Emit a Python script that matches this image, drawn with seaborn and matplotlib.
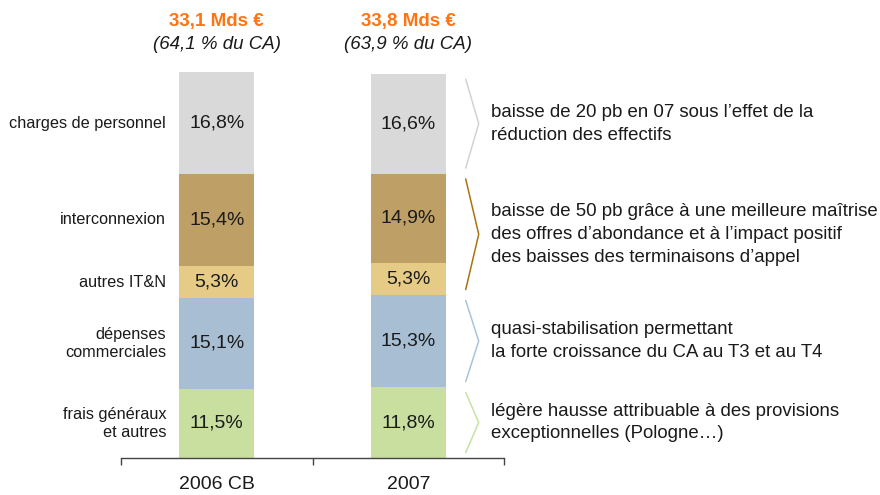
# Orange - charges opérationnelles 2006 / 2007 (stacked bars)
import pandas as pd
import matplotlib
matplotlib.use('Agg')
import matplotlib.pyplot as plt
import seaborn as sns

# ------------------------------
# Data
# ------------------------------
years = ['2006 CB', '2007']
layer_names = ['frais généraux\net autres', 'dépenses\ncommerciales',
               'autres IT&N', 'interconnexion', 'charges de personnel']
frais = [11.5, 11.8]
depenses = [15.1, 15.3]
autres = [5.3, 5.3]
interco = [15.4, 14.9]
charges = [16.8, 16.6]
totals_eur = ['33,1 Mds €', '33,8 Mds €']
totals_ca = ['(64,1 % du CA)', '(63,9 % du CA)']

comments = [
    "baisse de 20 pb en 07 sous l’effet de la\nréduction des effectifs",
    "baisse de 50 pb grâce à une meilleure maîtrise\ndes offres d’abondance et à l’impact positif\ndes baisses des terminaisons d’appel",
    "quasi-stabilisation permettant\nla forte croissance du CA au T3 et au T4",
    "légère hausse attribuable à des provisions\nexceptionnelles (Pologne…)",
]
# which layers each comment covers (indices in layer_names)
comment_groups = [[4], [2, 3], [1], [0]]

layer_colors = ['#C9DFA0', '#A7BED3', '#E5CB85', '#BE9F65', '#D9D9D9']
chevron_colors = ['#D2D2D2', '#A8740E', '#A9C3DC', '#C6E3A0']
orange = '#FF7412'

# long table with stacking positions
rows = []
for yi, year in enumerate(years):
    bottom = 0
    for li, vals in enumerate([frais, depenses, autres, interco, charges]):
        rows.append({'year': year, 'layer': layer_names[li], 'value': vals[yi],
                     'bottom': bottom, 'top': bottom + vals[yi]})
        bottom += vals[yi]
df = pd.DataFrame(rows)

# ------------------------------
# Plot
# ------------------------------
sns.set_style('white')
plt.rcParams['font.family'] = ['Liberation Sans', 'DejaVu Sans']

fig = plt.figure(figsize=(8.8, 4.95), dpi=100)
ax = fig.add_axes([121 / 880, 37 / 495, 383 / 880, 421 / 495])

# draw cumulative bars from the top layer down so each covers the one below
for li in reversed(range(len(layer_names))):
    sub = df[df['layer'] == layer_names[li]]
    sns.barplot(data=sub, x='year', y='top', order=years, color=layer_colors[li],
                saturation=1, width=0.39, ax=ax, errorbar=None, linewidth=0)

# values inside the segments
for _, r in df.iterrows():
    xi = years.index(r['year'])
    ax.text(xi, (r['bottom'] + r['top']) / 2, f"{r['value']:.1f}%".replace('.', ','),
            ha='center', va='center', fontsize=14, color='#1a1a1a')

# category labels left of first bar
first = df[df['year'] == years[0]]
for _, r in first.iterrows():
    ax.text(-0.265, (r['bottom'] + r['top']) / 2, r['layer'], ha='right', va='center',
            fontsize=11.7, color='#1a1a1a', linespacing=1.25)

# totals above bars
for xi in range(len(years)):
    ax.text(xi, 72.5, totals_eur[xi], ha='center', va='center', fontsize=13.5,
            fontweight='bold', color=orange)
    ax.text(xi, 68.7, totals_ca[xi], ha='center', va='center', fontsize=13.5,
            style='italic', color='#1a1a1a')

# chevrons + comments next to the 2007 bar
last = df[df['year'] == years[1]].reset_index(drop=True)
inset = 0.9
for gi, grp in enumerate(comment_groups):
    lo = last.loc[grp, 'bottom'].min() + inset
    hi = last.loc[grp, 'top'].max() - inset
    mid = (lo + hi) / 2
    ax.plot([1.30, 1.368, 1.30], [hi, mid, lo], color=chevron_colors[gi], lw=1.1,
            clip_on=False, solid_joinstyle='miter')
    ax.text(1.432, mid, comments[gi], ha='left', va='center', fontsize=13.4,
            color='#1a1a1a', linespacing=1.45)

# axes styling
ax.set_xlim(-0.5, 1.5)
ax.set_ylim(0, 70)
ax.set_yticks([])
ax.set_xlabel('')
ax.set_ylabel('')
ax.set_xticks([0, 1])
ax.set_xticklabels(years)
ax.set_xticks([-0.5, 0.5, 1.5], minor=True)
ax.tick_params(axis='x', which='major', bottom=False, length=0, pad=13,
               labelsize=14, labelcolor='#1a1a1a')
ax.tick_params(axis='x', which='minor', bottom=True, length=5, width=1,
               color='#444444', direction='out')
for s in ['left', 'top', 'right']:
    ax.spines[s].set_visible(False)
ax.spines['bottom'].set_color('#444444')
ax.spines['bottom'].set_linewidth(1)

plt.savefig('out.png', dpi=100)
